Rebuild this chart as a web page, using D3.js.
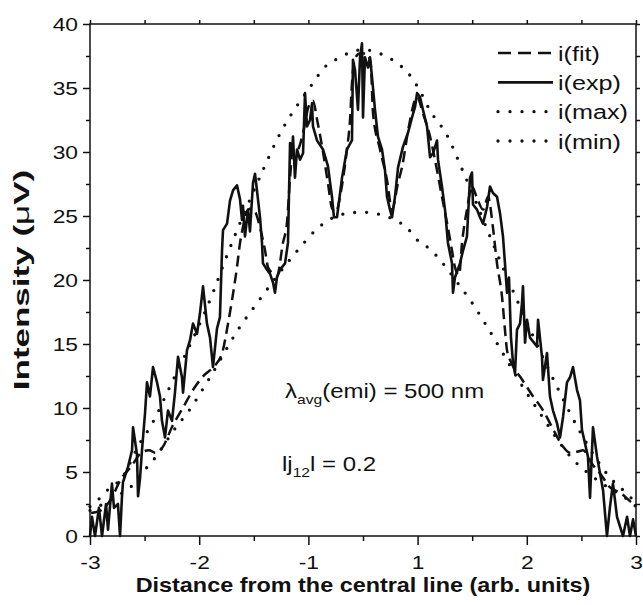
<!DOCTYPE html>
<html>
<head>
<meta charset="utf-8">
<script src="https://cdn.jsdelivr.net/npm/d3@7/dist/d3.min.js"></script>
<style>
  body { margin: 0; background: #fff; }
  svg text { font-family: "Liberation Sans", Arial, Helvetica, sans-serif; fill: #111; }
</style>
</head>
<body>
<div id="chart"></div>
<script>
// ---- Data (x in axis units, centre of the pattern at 0) ----
const expData = [
  [-2.500,0],[-2.482,1.5],[-2.454,0],[-2.418,2.2],[-2.390,0],[-2.353,2.5],[-2.335,0.5],[-2.299,4.1],
  [-2.280,2.2],[-2.244,2.5],[-2.225,0],[-2.207,3.1],[-2.198,4.2],[-2.152,5.4],[-2.115,6.7],[-2.106,8.5],
  [-2.070,6.4],[-2.060,3.1],[-2.042,4.5],[-2.024,6.7],[-1.996,9.6],[-1.978,12.0],[-1.951,10.9],[-1.923,13.2],
  [-1.886,12.0],[-1.859,10.9],[-1.841,9.0],[-1.813,7.7],[-1.786,9.8],[-1.749,9.0],[-1.722,11.2],[-1.694,14.0],
  [-1.658,12.4],[-1.648,11.2],[-1.612,14.5],[-1.584,15.3],[-1.557,16.6],[-1.520,15.8],[-1.493,17.4],[-1.465,19.5],
  [-1.429,16.6],[-1.401,15.5],[-1.383,14.0],[-1.374,13.2],[-1.337,16.2],[-1.310,17.1],[-1.291,22.3],[-1.282,23.9],
  [-1.245,24.4],[-1.218,26.2],[-1.190,27.0],[-1.154,27.4],[-1.126,26.3],[-1.108,24.7],[-1.099,25.8],[-1.081,23.4],
  [-1.053,25.5],[-1.035,23.8],[-1.007,27.6],[-0.989,28.3],[-0.971,27.0],[-0.943,24.9],[-0.925,22.9],[-0.916,21.3],
  [-0.879,20.8],[-0.852,20.5],[-0.824,19.8],[-0.806,19.0],[-0.788,20.2],[-0.760,20.8],[-0.714,21.3],[-0.687,22.9],
  [-0.668,30.7],[-0.650,29.9],[-0.641,31.2],[-0.623,28.0],[-0.604,30.2],[-0.577,29.4],[-0.549,29.9],[-0.531,34.6],
  [-0.513,32.0],[-0.485,32.5],[-0.467,33.8],[-0.458,32.0],[-0.421,30.9],[-0.366,30.2],[-0.321,28.9],[-0.284,26.5],
  [-0.266,24.9],[-0.238,24.9],[-0.192,28.0],[-0.147,30.2],[-0.101,30.9],[-0.092,37.2],[-0.073,36.4],[-0.046,33.3],
  [-0.027,37.4],[-0.009,38.5],[0.000,32.7],[0.018,37.4],[0.046,36.6],[0.064,37.4],[0.082,35.9],[0.110,33.3],
  [0.137,31.2],[0.174,30.2],[0.201,28.6],[0.220,26.5],[0.247,25.5],[0.266,24.9],[0.293,26.5],[0.321,28.8],
  [0.366,30.4],[0.412,31.5],[0.449,32.7],[0.476,33.5],[0.495,34.6],[0.522,34.3],[0.549,33.3],[0.586,32.0],
  [0.614,29.6],[0.641,29.9],[0.678,30.9],[0.687,29.4],[0.723,27.3],[0.751,25.5],[0.778,22.9],[0.815,21.3],
  [0.824,19.0],[0.842,20.2],[0.888,21.3],[0.916,22.3],[0.952,23.4],[0.980,28.0],[0.998,28.4],[1.007,25.9],
  [1.044,25.5],[1.071,24.9],[1.099,24.4],[1.136,25.7],[1.163,27.3],[1.190,26.8],[1.227,26.5],[1.255,25.2],
  [1.282,23.4],[1.300,21.3],[1.319,19.0],[1.337,20.2],[1.355,15.5],[1.374,13.5],[1.392,12.7],[1.410,16.1],
  [1.438,16.6],[1.456,18.2],[1.465,19.5],[1.484,15.1],[1.502,16.9],[1.529,15.5],[1.593,14.8],[1.603,16.9],
  [1.639,14.0],[1.648,12.2],[1.685,14.3],[1.712,10.9],[1.740,9.8],[1.777,8.8],[1.804,7.7],[1.832,9.3],
  [1.868,12.0],[1.896,12.4],[1.923,13.2],[1.960,11.4],[1.987,10.6],[2.005,8.3],[2.060,6.2],[2.079,3.0],
  [2.106,8.5],[2.143,6.2],[2.198,3.6],[2.234,0],[2.262,2.3],[2.289,4.1],[2.326,1.5],[2.381,0],
  [2.418,1.5],[2.445,0],[2.473,1.3],[2.500,0]
];

const fitData = [
  [-2.49,1.8],[-2.40,2.0],[-2.30,3.0],[-2.22,4.4],[-2.125,5.4],[-2.03,6.5],[-1.96,6.7],[-1.90,6.5],
  [-1.83,7.0],[-1.75,8.5],[-1.65,10.0],[-1.55,11.5],[-1.45,12.6],[-1.37,13.2],[-1.29,14.3],[-1.236,16.6],
  [-1.20,18.4],[-1.154,21.0],[-1.126,22.9],[-1.10,24.1],[-1.06,25.4],[-1.02,25.6],[-0.98,25.2],[-0.943,24.1],
  [-0.897,22.3],[-0.87,21.0],[-0.824,20.5],[-0.788,20.3],[-0.733,22.9],[-0.696,24.5],[-0.668,28.0],[-0.641,30.3],
  [-0.60,30.2],[-0.549,31.5],[-0.50,33.5],[-0.458,34.0],[-0.42,32.5],[-0.37,30.2],[-0.32,27.5],[-0.284,25.6],
  [-0.25,25.3],[-0.20,27.0],[-0.15,30.0],[-0.119,32.5],[-0.10,35.5],[-0.073,37.3],[-0.03,37.7],[0.03,37.7],
  [0.07,37.0],[0.092,33.0],[0.156,30.2],[0.22,27.8],[0.266,25.5],[0.321,27.6],[0.357,28.8],[0.42,32.0],
  [0.495,34.3],[0.55,33.0],[0.614,31.2],[0.659,29.4],[0.723,26.5],[0.769,24.5],[0.815,22.3],[0.842,21.0],
  [0.88,20.4],[0.907,22.9],[0.952,25.5],[0.998,27.3],[1.04,26.5],[1.10,25.5],[1.145,26.5],[1.19,24.1],
  [1.227,21.3],[1.273,18.7],[1.30,16.1],[1.319,14.5],[1.355,13.6],[1.392,13.0],[1.45,12.3],[1.55,11.0],
  [1.65,9.8],[1.75,8.2],[1.83,7.0],[1.896,6.5],[1.969,6.6],[2.015,6.7],[2.10,5.6],[2.17,4.9],
  [2.262,3.8],[2.353,3.4],[2.463,2.6],[2.50,2.4]
];

const maxData = [
  [-2.5,2.3],[-2.43,2.8],[-2.32,3.75],[-2.22,4.4],[-2.04,7.3],[-1.95,8.5],[-1.75,12.0],[-1.37,19.1],
  [-1.26,21.6],[-0.91,28.7],[-0.78,31.1],[-0.49,35.0],[-0.33,36.8],[-0.23,37.3],[-0.14,37.7],[0,38.0],
  [0.18,37.6],[0.32,36.9],[0.41,36.2],[0.52,34.8],[0.61,33.3],[0.77,31.3],[0.92,28.4],[1.33,20.0],
  [1.78,11.6],[1.99,8.1],[2.28,4.4],[2.38,3.6],[2.5,2.6]
];

const minData = [
  [-2.5,2.0],[-2.2,3.4],[-2.106,4.0],[-2.015,5.0],[-1.923,5.9],[-1.712,8.5],[-1.61,9.6],[-1.401,12.4],
  [-1.13,16.3],[-0.97,18.2],[-0.60,22.3],[-0.42,24.0],[-0.33,24.6],[-0.15,25.2],[0,25.3],[0.11,25.2],
  [0.29,24.7],[0.40,24.1],[0.50,23.1],[0.60,22.5],[0.89,19.5],[1.0,18.2],[1.14,16.3],[1.46,11.7],
  [1.62,9.6],[1.91,6.1],[2.14,4.4],[2.46,2.6],[2.5,2.3]
];

// the axis has no zero label: major ticks are evenly spaced -3 -2 -1 1 2 3
const xMajorTicks = [-2.5, -1.5, -0.5, 0.5, 1.5, 2.5];
const xTickLabels = ['-3', '-2', '-1', '1', '2', '3'];
const xMinorTicks = [-2, -1, 0, 1, 2];
const yMajorTicks = [0, 5, 10, 15, 20, 25, 30, 35, 40];
const yMinorTicks = [2.5, 7.5, 12.5, 17.5, 22.5, 27.5, 32.5, 37.5];
const legendLabels = ['i(fit)', 'i(exp)', 'i(max)', 'i(min)'];

// ---- Layout ----
const WIDTH = 643, HEIGHT = 605;
const PLOT = { left: 90, right: 636, top: 24, bottom: 536 };
const SX = 1.2; // the source figure is stretched horizontally, text included

const svg = d3.select('#chart').append('svg')
  .attr('width', WIDTH)
  .attr('height', HEIGHT);

const x = d3.scaleLinear().domain([-2.5, 2.5]).range([PLOT.left, PLOT.right]);
const y = d3.scaleLinear().domain([0, 40]).range([PLOT.bottom, PLOT.top]);

// line styles per series
const STYLES = {
  fit: { dash: '11,6', width: 2.5, cap: 'butt' },
  exp: { dash: null, width: 2.6, cap: 'butt' },
  max: { dash: '0,12', width: 3.3, cap: 'round' },
  min: { dash: '0,12', width: 3.3, cap: 'round' }
};

function styleLine(sel, s) {
  sel.attr('fill', 'none')
    .attr('stroke', '#111')
    .attr('stroke-width', s.width)
    .attr('stroke-linecap', s.cap)
    .attr('stroke-linejoin', 'round')
    .attr('stroke-dasharray', s.dash);
}

const smooth = d3.line().x(d => x(d[0])).y(d => y(d[1])).curve(d3.curveMonotoneX);
const jagged = d3.line().x(d => x(d[0])).y(d => y(d[1]));

// ---- Series ----
const plot = svg.append('g');
plot.append('path').attr('d', smooth(maxData)).call(styleLine, STYLES.max);
plot.append('path').attr('d', smooth(minData)).call(styleLine, STYLES.min);
plot.append('path').attr('d', smooth(fitData)).call(styleLine, STYLES.fit);
plot.append('path').attr('d', jagged(expData)).call(styleLine, STYLES.exp);

// ---- Axes ----
function tidy(g, labels) {
  g.select('.domain').remove();
  g.selectAll('line').attr('stroke', '#111').attr('stroke-width', 1.5);
  if (labels) {
    g.selectAll('text')
      .attr('font-size', 19)
      .attr('fill', '#111')
      .attr('transform', `scale(${SX},1)`);
  } else {
    g.selectAll('text').remove();
  }
}

svg.append('g')
  .attr('transform', `translate(0,${PLOT.bottom})`)
  .call(d3.axisBottom(x).tickValues(xMajorTicks).tickSize(9).tickPadding(11)
    .tickFormat((d, i) => xTickLabels[i]))
  .call(g => tidy(g, true));
svg.append('g')
  .attr('transform', `translate(0,${PLOT.bottom})`)
  .call(d3.axisBottom(x).tickValues(xMinorTicks).tickSize(5))
  .call(g => tidy(g, false));

svg.append('g')
  .attr('transform', `translate(${PLOT.left},0)`)
  .call(d3.axisLeft(y).tickValues(yMajorTicks).tickSize(7).tickPadding(3))
  .call(g => tidy(g, true));
svg.append('g')
  .attr('transform', `translate(${PLOT.left},0)`)
  .call(d3.axisLeft(y).tickValues(yMinorTicks).tickSize(4))
  .call(g => tidy(g, false));

svg.append('g')
  .attr('transform', `translate(0,${PLOT.top})`)
  .call(d3.axisTop(x).tickValues(xMajorTicks.concat(xMinorTicks)).tickSize(4))
  .call(g => tidy(g, false));
svg.append('g')
  .attr('transform', `translate(${PLOT.right},0)`)
  .call(d3.axisRight(y).tickValues(yMajorTicks.concat(yMinorTicks)).tickSize(4))
  .call(g => tidy(g, false));

// frame
svg.append('rect')
  .attr('x', PLOT.left).attr('y', PLOT.top)
  .attr('width', PLOT.right - PLOT.left)
  .attr('height', PLOT.bottom - PLOT.top)
  .attr('fill', 'none')
  .attr('stroke', '#111')
  .attr('stroke-width', 1.5);

// ---- Axis titles ----
svg.append('text')
  .attr('transform', `translate(${(PLOT.left + PLOT.right) / 2},592) scale(${SX},1)`)
  .attr('text-anchor', 'middle')
  .attr('font-size', 19.5)
  .attr('font-weight', 'bold')
  .text('Distance from the central line (arb. units)');

// the vertical title runs much longer in the source than the horizontal one
const yTitle = svg.append('text')
  .attr('transform', `translate(29,${(PLOT.top + PLOT.bottom) / 2}) scale(1.1,1.75) rotate(-90)`)
  .attr('text-anchor', 'middle')
  .attr('font-size', 20)
  .attr('font-weight', 'bold');
yTitle.append('tspan').text('Intensity (');
yTitle.append('tspan').attr('font-weight', 'normal').text('μ');
yTitle.append('tspan').text('V)');

// ---- Legend ----
const legendKeys = ['fit', 'exp', 'max', 'min'];
const legendY = d3.scalePoint().domain(legendKeys).range([53, 141]);
const legend = svg.append('g');
legendKeys.forEach((k, i) => {
  legend.append('line')
    .attr('x1', 498).attr('x2', 553)
    .attr('y1', legendY(k)).attr('y2', legendY(k))
    .call(styleLine, STYLES[k])
    .attr('stroke-dasharray', k === 'fit' ? '13,7' : STYLES[k].dash);
  legend.append('text')
    .attr('transform', `translate(558,${legendY(k)}) scale(${SX},1)`)
    .attr('dy', '0.36em')
    .attr('font-size', 21)
    .text(legendLabels[i]);
});

// ---- Annotations ----
const lam = svg.append('text')
  .attr('transform', `translate(285,398) scale(${SX},1)`)
  .attr('font-size', 20);
lam.append('tspan').text('λ');
lam.append('tspan').attr('font-size', 13).attr('dy', 6).text('avg');
lam.append('tspan').attr('dy', -6).text('(emi) = 500 nm');

const jj = svg.append('text')
  .attr('transform', `translate(282,471) scale(${SX},1)`)
  .attr('font-size', 20);
jj.append('tspan').text('lj');
jj.append('tspan').attr('font-size', 13).attr('dy', 6).text('12');
jj.append('tspan').attr('dy', -6).text('l = 0.2');
</script>
</body>
</html>
